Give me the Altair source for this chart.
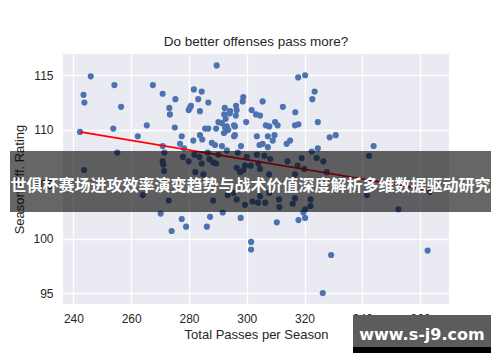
import altair as alt
import pandas as pd

passes = [242.3, 243.5, 243.8, 246.0, 254.2, 256.5, 253.8, 265.4, 262.3, 267.5,
          270.9, 273.2, 273.4, 275.3, 275.1, 277.5, 276.9, 278.3, 270.9, 281.7,
          284.4, 283.2, 286.7, 280.7, 280.3, 279.9, 283.8, 281.5, 283.8, 284.6,
          285.6, 286.7, 289.4, 289.6, 290.2, 291.4, 287.9, 289.0, 291.4, 292.4,
          294.2, 294.1, 292.2, 292.7, 292.1, 293.1, 293.6, 292.5, 292.8, 296.3,
          296.5, 296.2, 298.8, 298.6, 295.6, 295.9, 295.9, 295.6, 298.0, 299.8,
          301.7, 303.2, 304.6, 305.5, 303.5, 304.4, 305.5, 306.6, 307.8, 307.3,
          307.3, 309.8, 310.7, 309.6, 309.0, 312.5, 313.8, 315.0, 316.8, 316.7,
          317.9, 317.8, 320.2, 322.7, 323.5, 324.6, 324.6, 328.7, 330.8, 343.9,
          293.1,
          255.2, 243.7, 271.5, 270.9, 271.1, 271.4, 277.9, 279.9, 281.9, 283.6,
          284.4, 282.2, 285.0, 286.5, 287.1, 288.4, 289.4, 290.2, 296.9, 296.5,
          297.7, 298.8, 300.0, 301.4, 299.4, 303.5, 306.1, 304.0, 304.6, 307.7,
          308.1, 314.1, 316.7, 317.6, 319.0, 319.9, 322.5, 324.2, 326.5, 327.7,
          342.3,
          264.0, 273.0, 288.4, 293.4, 295.4, 296.5, 299.4, 302.0, 303.9, 306.4,
          304.6, 307.8, 311.2, 311.3, 315.9, 322.1, 322.1, 341.6, 352.5, 363.5,
          320.2, 316.7,
          270.2, 277.5, 274.0, 279.0, 287.3, 286.2, 291.7, 297.9, 301.5, 301.5,
          310.4, 317.9, 319.6, 320.2, 329.2, 326.3, 362.6]

rating = [109.8, 113.2, 112.5, 114.9, 114.1, 112.1, 110.1, 110.4, 109.4, 114.1,
          113.3, 112.0, 111.4, 112.8, 110.2, 109.4, 108.7, 108.3, 108.5, 113.7,
          113.5, 112.8, 112.5, 112.2, 112.0, 111.8, 111.7, 109.0, 109.5, 109.1,
          110.1, 110.1, 110.1, 115.9, 110.7, 110.6, 108.8, 108.6, 108.5, 112.0,
          111.7, 111.5, 111.4, 111.0, 109.7, 110.3, 110.0, 110.2, 109.9, 112.2,
          111.8, 111.3, 113.0, 112.6, 110.4, 110.3, 109.5, 109.4, 108.5, 110.7,
          111.8, 111.4, 111.3, 112.6, 109.4, 108.6, 108.7, 110.4, 110.3, 109.4,
          108.4, 110.7, 110.4, 109.5, 109.0, 112.1, 108.7, 109.0, 111.6, 110.4,
          110.5, 114.8, 115.0, 112.8, 113.5, 110.7, 108.3, 109.3, 109.5, 108.5,
          108.1,
          107.9, 106.3, 107.9, 107.1, 106.8, 106.2, 107.5, 107.1, 107.7, 107.5,
          106.9, 106.1, 105.9, 107.9, 107.3, 107.0, 106.9, 107.7, 107.9, 106.5,
          106.1, 106.3, 107.5, 106.7, 106.7, 107.7, 107.6, 106.9, 106.4, 105.9,
          107.3, 107.1, 105.9, 106.7, 107.4, 106.4, 108.0, 107.4, 107.1, 106.1,
          107.6,
          104.0, 103.5, 103.5, 104.0, 104.2, 103.6, 103.1, 103.4, 103.3, 103.3,
          103.9, 104.2, 103.6, 102.9, 103.2, 103.6, 103.0, 104.0, 102.7, 104.3,
          102.7, 103.7,
          102.3, 101.8, 100.7, 101.1, 102.0, 101.1, 102.4, 101.9, 99.7, 99.0,
          101.5, 101.7, 102.4, 101.9, 98.5, 95.0, 98.9]

fit_x = [242.3, 363.5]
fit_y = [109.8, 104.45]

x_ticks = [240, 260, 280, 300, 320, 340, 360]
y_ticks = [95, 100, 105, 110, 115]

title_text = "Do better offenses pass more?"
x_title = "Total Passes per Season"
y_title = "Season Off. Rating"
banner_text = "世俱杯赛场进攻效率演变趋势与战术价值深度解析多维数据驱动研究"
mark_text = "www.s-j9.com"

pts = pd.DataFrame({"passes": passes, "rating": rating})
fit = pd.DataFrame({"passes": fit_x, "rating": fit_y})

W, H = 386, 250

xs = alt.Scale(domain=[236.4, 370], nice=False, zero=False)
ys = alt.Scale(domain=[94.0, 116.95], nice=False, zero=False)

xax = alt.Axis(values=x_ticks, title=x_title, grid=True, gridColor="white", gridWidth=1.3,
               domain=False, ticks=False, labelFont="Liberation Sans", labelFontSize=12,
               labelColor="#262626", labelPadding=9, titleFont="Liberation Sans",
               titleFontSize=13, titleFontWeight="normal", titleColor="#262626", titlePadding=4)
yax = alt.Axis(values=y_ticks, title=y_title, grid=True, gridColor="white", gridWidth=1.3,
               domain=False, ticks=False, labelFont="Liberation Sans", labelFontSize=12,
               labelColor="#262626", labelPadding=10, titleFont="Liberation Sans",
               titleFontSize=13, titleFontWeight="normal", titleColor="#262626", titlePadding=6)

points = alt.Chart(pts).mark_circle(size=38, opacity=1, color="#4C72B0").encode(
    x=alt.X("passes:Q", scale=xs, axis=xax),
    y=alt.Y("rating:Q", scale=ys, axis=yax),
)

line = alt.Chart(fit).mark_line(color="#ff0000", strokeWidth=1.6).encode(
    x=alt.X("passes:Q", scale=xs),
    y=alt.Y("rating:Q", scale=ys),
)

one = pd.DataFrame({"t": [banner_text]})
banner = alt.Chart(one).mark_rect(color="black", opacity=0.6).encode(
    x=alt.value(-53), x2=alt.value(428), y=alt.value(97), y2=alt.value(158))
banner_txt = alt.Chart(one).mark_text(
    font="Noto Sans CJK SC", fontSize=16.0, fontWeight="bold", color="white",
    align="center", baseline="middle").encode(
    x=alt.value(187.5), y=alt.value(132), text="t:N")

two = pd.DataFrame({"t": [mark_text]})
wm_box = alt.Chart(two).mark_rect(color="#5c5c5c", opacity=1).encode(
    x=alt.value(290), x2=alt.value(428), y=alt.value(261), y2=alt.value(293))
wm_strip = alt.Chart(two).mark_rect(color="black", opacity=1).encode(
    x=alt.value(290), x2=alt.value(428), y=alt.value(293), y2=alt.value(299))
wm_txt = alt.Chart(two).mark_text(
    font="DejaVu Sans", fontSize=16, fontWeight="bold", color="white",
    align="center", baseline="middle").encode(
    x=alt.value(359), y=alt.value(281), text="t:N")

chart = alt.layer(points, line, banner, banner_txt, wm_box, wm_strip, wm_txt).properties(
    width=W, height=H,
    title=alt.TitleParams(title_text, font="Liberation Sans", fontSize=13.5,
                          fontWeight="normal", color="#262626", offset=6),
    autosize=alt.AutoSizeParams(type="none"),
    padding={"left": 55, "top": 46, "right": 43, "bottom": 50},
    background="white",
).configure_view(fill="#EAEAF2", stroke=None)

chart.save("out.html", embed_options={"renderer": "svg", "actions": False})
